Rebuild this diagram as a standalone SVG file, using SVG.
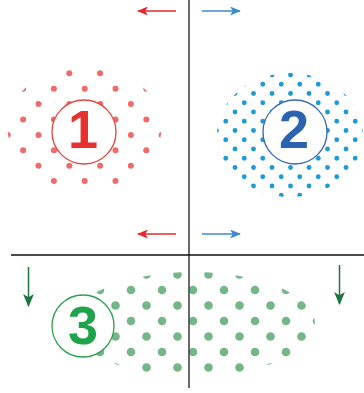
<svg xmlns="http://www.w3.org/2000/svg" width="364" height="393" viewBox="0 0 364 393">
  <style>
    .num { font-family: "Liberation Sans", Arial, sans-serif; font-weight: bold; font-size: 54px; text-anchor: middle; }
    .ring { fill: #ffffff; stroke-width: 1.3; }
    .axis { stroke-width: 1.6; fill: none; }
    .arr { stroke-width: 1.5; fill: none; }
    .rd { fill: #f06a6a; }
    .bd { fill: #1b9ad6; }
    .gd { fill: #74b688; }
  </style>
  <defs>
    <clipPath id="clipRed"><ellipse cx="84.5" cy="127.5" rx="77" ry="62"/></clipPath>
    <clipPath id="clipBlue"><ellipse cx="290" cy="135" rx="73" ry="62"/></clipPath>
    <clipPath id="clipGreen"><ellipse cx="193" cy="324" rx="122" ry="52"/></clipPath>
    <g id="redRowA" class="rd">
      <circle cx="7.7" cy="0" r="3"/><circle cx="38.5" cy="0" r="3"/><circle cx="69.3" cy="0" r="3"/><circle cx="100.1" cy="0" r="3"/><circle cx="130.9" cy="0" r="3"/><circle cx="161.7" cy="0" r="3"/>
    </g>
    <g id="redRowB" class="rd">
      <circle cx="23.1" cy="0" r="3"/><circle cx="53.9" cy="0" r="3"/><circle cx="84.7" cy="0" r="3"/><circle cx="115.5" cy="0" r="3"/><circle cx="146.3" cy="0" r="3"/>
    </g>
    <g id="blueRowA" class="bd">
      <circle cx="216.5" cy="0" r="2.4"/><circle cx="235" cy="0" r="2.4"/><circle cx="253.5" cy="0" r="2.4"/><circle cx="272" cy="0" r="2.4"/><circle cx="290.5" cy="0" r="2.4"/><circle cx="309" cy="0" r="2.4"/><circle cx="327.5" cy="0" r="2.4"/><circle cx="346" cy="0" r="2.4"/><circle cx="364.5" cy="0" r="2.4"/>
    </g>
    <g id="blueRowB" class="bd">
      <circle cx="225.75" cy="0" r="2.4"/><circle cx="244.25" cy="0" r="2.4"/><circle cx="262.75" cy="0" r="2.4"/><circle cx="281.25" cy="0" r="2.4"/><circle cx="299.75" cy="0" r="2.4"/><circle cx="318.25" cy="0" r="2.4"/><circle cx="336.75" cy="0" r="2.4"/><circle cx="355.25" cy="0" r="2.4"/>
    </g>
    <g id="greenRowA" class="gd">
      <circle cx="69" cy="0" r="4.3"/><circle cx="100" cy="0" r="4.3"/><circle cx="131" cy="0" r="4.3"/><circle cx="162" cy="0" r="4.3"/><circle cx="193" cy="0" r="4.3"/><circle cx="224" cy="0" r="4.3"/><circle cx="255" cy="0" r="4.3"/><circle cx="286" cy="0" r="4.3"/><circle cx="317" cy="0" r="4.3"/>
    </g>
    <g id="greenRowB" class="gd">
      <circle cx="84.5" cy="0" r="4.3"/><circle cx="115.5" cy="0" r="4.3"/><circle cx="146.5" cy="0" r="4.3"/><circle cx="177.5" cy="0" r="4.3"/><circle cx="208.5" cy="0" r="4.3"/><circle cx="239.5" cy="0" r="4.3"/><circle cx="270.5" cy="0" r="4.3"/><circle cx="301.5" cy="0" r="4.3"/>
    </g>
    <marker id="headRed" viewBox="0 0 12 10" refX="11" refY="5" markerWidth="12" markerHeight="9" markerUnits="userSpaceOnUse" orient="auto">
      <path d="M0,0 L12,5 L0,10 L3,5 z" fill="#e8262a"/>
    </marker>
    <marker id="headBlue" viewBox="0 0 12 10" refX="11" refY="5" markerWidth="12" markerHeight="9" markerUnits="userSpaceOnUse" orient="auto">
      <path d="M0,0 L12,5 L0,10 L3,5 z" fill="#3a8ad0"/>
    </marker>
    <marker id="headGreen" viewBox="0 0 12 10" refX="11" refY="5" markerWidth="13" markerHeight="11" markerUnits="userSpaceOnUse" orient="auto">
      <path d="M0,0 L12,5 L0,10 L3,5 z" fill="#1d7440"/>
    </marker>
  </defs>

  <g id="zone1">
    <g clip-path="url(#clipRed)">
      <use href="#redRowA" y="73.3"/><use href="#redRowB" y="88.7"/><use href="#redRowA" y="104.1"/><use href="#redRowB" y="119.5"/>
      <use href="#redRowA" y="134.9"/><use href="#redRowB" y="150.3"/><use href="#redRowA" y="165.7"/><use href="#redRowB" y="181.1"/>
    </g>
    <circle class="ring" cx="84" cy="132" r="32" stroke="#e8403f"/>
    <text class="num" x="83" y="148" fill="#e8312f">1</text>
  </g>

  <g id="zone2">
    <g clip-path="url(#clipBlue)">
      <use href="#blueRowA" y="75"/><use href="#blueRowB" y="84.25"/><use href="#blueRowA" y="93.5"/><use href="#blueRowB" y="102.75"/>
      <use href="#blueRowA" y="112"/><use href="#blueRowB" y="121.25"/><use href="#blueRowA" y="130.5"/><use href="#blueRowB" y="139.75"/>
      <use href="#blueRowA" y="149"/><use href="#blueRowB" y="158.25"/><use href="#blueRowA" y="167.5"/><use href="#blueRowB" y="176.75"/>
      <use href="#blueRowA" y="186"/><use href="#blueRowB" y="195.25"/>
    </g>
    <circle class="ring" cx="295" cy="132" r="32" stroke="#3567b0"/>
    <text class="num" x="294" y="148" fill="#2a64b0">2</text>
  </g>

  <g id="zone3">
    <g clip-path="url(#clipGreen)">
      <use href="#greenRowB" y="274.5"/><use href="#greenRowA" y="290"/><use href="#greenRowB" y="305.5"/><use href="#greenRowA" y="321"/>
      <use href="#greenRowB" y="336.5"/><use href="#greenRowA" y="352"/><use href="#greenRowB" y="367.5"/>
    </g>
    <circle class="ring" cx="83" cy="326" r="31" stroke="#2aa04f"/>
    <text class="num" x="83" y="344" fill="#1fa24a">3</text>
  </g>

  <g id="axes">
    <line class="axis" x1="189" y1="0" x2="189" y2="388" stroke="#444444"/>
    <line class="axis" x1="11" y1="255" x2="364" y2="255" stroke="#111111"/>
  </g>

  <g id="connectors">
    <line class="arr" x1="176" y1="11" x2="138" y2="11" stroke="#e8262a" marker-end="url(#headRed)"/>
    <line class="arr" x1="202" y1="11" x2="240" y2="11" stroke="#3a8ad0" marker-end="url(#headBlue)"/>
    <line class="arr" x1="176" y1="234" x2="138" y2="234" stroke="#e8262a" marker-end="url(#headRed)"/>
    <line class="arr" x1="202" y1="234" x2="240" y2="234" stroke="#3a8ad0" marker-end="url(#headBlue)"/>
    <line class="arr" x1="28.5" y1="267" x2="28.5" y2="306" stroke="#1d7440" marker-end="url(#headGreen)"/>
    <line class="arr" x1="339.5" y1="265" x2="339.5" y2="304" stroke="#1d7440" marker-end="url(#headGreen)"/>
  </g>
</svg>
